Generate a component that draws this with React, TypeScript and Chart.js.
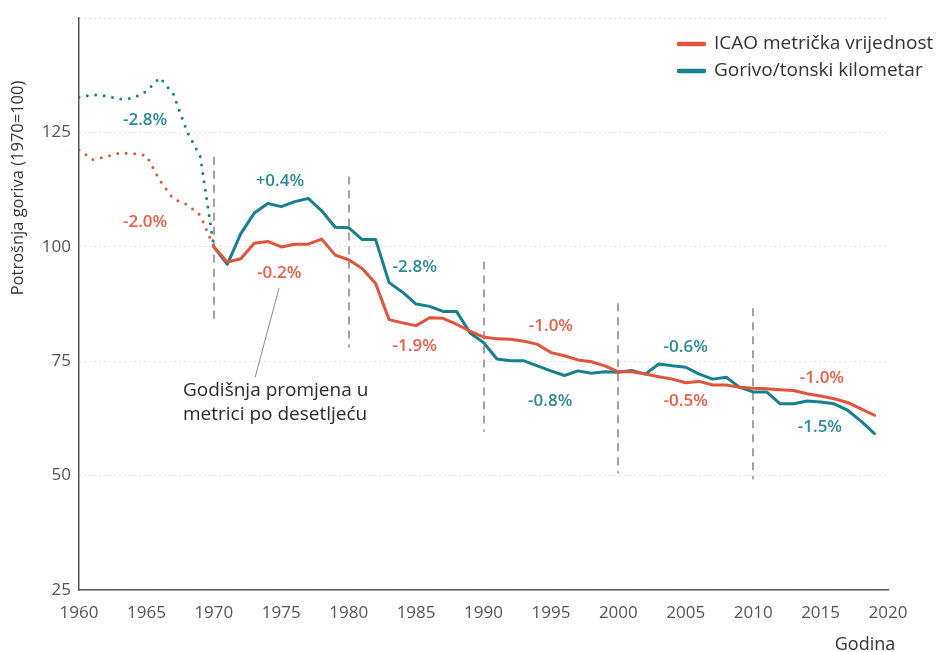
import React, { useEffect, useRef } from 'react';
import { Chart, registerables } from 'chart.js';

Chart.register(...registerables);

// ---------- data ----------
const years = [
  1960, 1961, 1962, 1963, 1964, 1965, 1966, 1967, 1968, 1969,
  1970, 1971, 1972, 1973, 1974, 1975, 1976, 1977, 1978, 1979,
  1980, 1981, 1982, 1983, 1984, 1985, 1986, 1987, 1988, 1989,
  1990, 1991, 1992, 1993, 1994, 1995, 1996, 1997, 1998, 1999,
  2000, 2001, 2002, 2003, 2004, 2005, 2006, 2007, 2008, 2009,
  2010, 2011, 2012, 2013, 2014, 2015, 2016, 2017, 2018, 2019,
];

const icaoMetric = [
  121.2, 119.1, 119.7, 120.5, 120.4, 120.0, 114.5, 110.5, 109.3, 106.9,
  100.0, 96.7, 97.4, 100.8, 101.2, 100.0, 100.6, 100.6, 101.7, 98.2,
  97.2, 95.3, 92.0, 84.1, 83.4, 82.8, 84.5, 84.4, 83.1, 81.6,
  80.3, 79.9, 79.8, 79.4, 78.7, 76.9, 76.2, 75.3, 74.9, 74.0,
  72.7, 72.7, 72.2, 71.6, 71.1, 70.3, 70.6, 69.8, 69.8, 69.3,
  69.1, 69.0, 68.8, 68.6, 67.9, 67.4, 66.8, 66.0, 64.6, 63.2,
];

const fuelPerTonneKm = [
  132.7, 133.3, 133.0, 132.3, 132.5, 134.0, 137.0, 133.4, 125.3, 119.7,
  100.0, 96.2, 102.9, 107.4, 109.5, 108.8, 109.9, 110.6, 107.9, 104.3,
  104.2, 101.6, 101.6, 92.2, 90.1, 87.5, 87.0, 85.9, 85.9, 81.2,
  79.1, 75.5, 75.1, 75.1, 74.0, 72.9, 71.9, 72.9, 72.4, 72.7,
  72.6, 73.0, 72.2, 74.4, 74.0, 73.7, 72.2, 71.1, 71.5, 69.3,
  68.3, 68.3, 65.7, 65.7, 66.3, 66.1, 65.7, 64.3, 61.9, 59.2,
];

const seriesNames = ['ICAO metrička vrijednost', 'Gorivo/tonski kilometar'];
const dottedUntilYear = 1970;

const xTickValues = [1960, 1965, 1970, 1975, 1980, 1985, 1990, 1995, 2000, 2005, 2010, 2015, 2020];
const yTickValues = [25, 50, 75, 100, 125];

// decade separators (year, from value, to value)
const decadeYears = [1970, 1980, 1990, 2000, 2010];
const decadeTop = [119.7, 115.4, 96.8, 87.7, 86.6];
const decadeBottom = [83.0, 78.0, 59.6, 50.5, 49.2];

// annual change per decade labels
const changeTexts = ['-2.8%', '-2.0%', '+0.4%', '-0.2%', '-2.8%', '-1.9%', '-1.0%', '-0.8%', '-0.6%', '-0.5%', '-1.0%', '-1.5%'];
const changeYears = [1964.9, 1964.9, 1974.9, 1974.85, 1984.9, 1984.9, 1995.0, 1994.95, 2005.0, 2005.0, 2015.1, 2014.95];
const changeValues = [127.7, 105.4, 114.3, 94.2, 95.5, 78.4, 82.7, 66.3, 78.0, 66.3, 71.3, 60.7];
const changeSeries = [1, 0, 1, 0, 1, 0, 0, 1, 1, 0, 0, 1];

const calloutLines = ['Godišnja promjena u', 'metrici po desetljeću'];

// ---------- styles ----------
const RED = '#E1533A';
const TEAL = '#17808F';
const RED_TXT = '#E5604A';
const TEAL_TXT = '#2A8B9A';
const FONT = '"Open Sans", "DejaVu Sans", sans-serif';

const overlayPlugin = {
  id: 'overlay',
  beforeDatasetsDraw(chart: any) {
    const { ctx } = chart;
    const xs = chart.scales.x;
    const ys = chart.scales.y;
    ctx.save();
    ctx.strokeStyle = '#a3a3a3';
    ctx.lineWidth = 2;
    ctx.setLineDash([8, 6]);
    decadeYears.forEach((yr, i) => {
      const x = Math.round(xs.getPixelForValue(yr));
      ctx.beginPath();
      ctx.moveTo(x, ys.getPixelForValue(decadeTop[i]));
      ctx.lineTo(x, ys.getPixelForValue(decadeBottom[i]));
      ctx.stroke();
    });
    ctx.restore();
  },
  afterDraw(chart: any) {
    const { ctx } = chart;
    const xs = chart.scales.x;
    const ys = chart.scales.y;
    ctx.save();

    // change labels
    ctx.font = `600 17px ${FONT}`;
    ctx.textAlign = 'center';
    ctx.textBaseline = 'middle';
    changeTexts.forEach((t, i) => {
      ctx.fillStyle = changeSeries[i] === 0 ? RED_TXT : TEAL_TXT;
      ctx.fillText(t, xs.getPixelForValue(changeYears[i]), ys.getPixelForValue(changeValues[i]));
    });

    // callout
    ctx.strokeStyle = '#8a8a8a';
    ctx.lineWidth = 1;
    ctx.beginPath();
    ctx.moveTo(xs.getPixelForValue(1974.84), ys.getPixelForValue(91.0));
    ctx.lineTo(xs.getPixelForValue(1973.06), ys.getPixelForValue(71.5));
    ctx.stroke();
    ctx.fillStyle = '#2b2b2b';
    ctx.font = `19px ${FONT}`;
    ctx.textAlign = 'left';
    ctx.fillText(calloutLines[0], 183, 391);
    ctx.fillText(calloutLines[1], 183, 415);

    // legend
    const legendColors = [RED, TEAL];
    const legendY = [44, 71];
    ctx.font = `19px ${FONT}`;
    seriesNames.forEach((name, i) => {
      ctx.strokeStyle = legendColors[i];
      ctx.lineWidth = 4.5;
      ctx.lineCap = 'round';
      ctx.beginPath();
      ctx.moveTo(679, legendY[i]);
      ctx.lineTo(704, legendY[i]);
      ctx.stroke();
      ctx.fillStyle = '#333';
      ctx.fillText(name, 714, legendY[i]);
    });

    // axis titles
    ctx.fillStyle = '#333';
    ctx.font = `18px ${FONT}`;
    ctx.textAlign = 'center';
    ctx.fillText('Godina', 865, 645);
    ctx.translate(18, 188);
    ctx.rotate(-Math.PI / 2);
    ctx.font = `16.5px ${FONT}`;
    ctx.fillText('Potrošnja goriva (1970=100)', 0, 0);
    ctx.restore();
  },
};

export default function App() {
  const ref = useRef<HTMLCanvasElement | null>(null);

  useEffect(() => {
    if (!ref.current) return;
    const mk = (vals: number[]) => years.map((y, i) => ({ x: y, y: vals[i] }));
    const dotted = (c: any) => (c.p1.parsed.x <= dottedUntilYear ? [0, 8.5] : undefined);
    const chart = new Chart(ref.current, {
      type: 'line',
      data: {
        datasets: [
          {
            label: seriesNames[0],
            data: mk(icaoMetric),
            borderColor: RED,
            borderWidth: 3,
            pointRadius: 0,
            borderCapStyle: 'round',
            borderJoinStyle: 'round',
            segment: { borderDash: dotted },
          } as any,
          {
            label: seriesNames[1],
            data: mk(fuelPerTonneKm),
            borderColor: TEAL,
            borderWidth: 3,
            pointRadius: 0,
            borderCapStyle: 'round',
            borderJoinStyle: 'round',
            segment: { borderDash: dotted },
          } as any,
        ],
      },
      options: {
        animation: false,
        responsive: false,
        layout: { padding: { left: 0, top: 12, right: 48, bottom: 0 } },
        plugins: { legend: { display: false }, tooltip: { enabled: false } },
        scales: {
          x: {
            type: 'linear',
            min: 1960,
            max: 2020,
            afterFit: (s: any) => { s.height = 62; },
            afterBuildTicks: (s: any) => { s.ticks = xTickValues.map((v) => ({ value: v })); },
            ticks: {
              callback: (v: any) => String(v),
              color: '#555',
              font: { family: FONT, size: 17 },
              padding: 13,
              maxRotation: 0,
              autoSkip: false,
            },
            grid: { display: false, drawTicks: false },
            border: { display: true, color: '#555', width: 1.5 },
          },
          y: {
            min: 25,
            max: 150,
            afterFit: (s: any) => { s.width = 79; },
            afterBuildTicks: (s: any) => { s.ticks = [...yTickValues, 150].map((v) => ({ value: v })); },
            ticks: {
              callback: (v: any) => (yTickValues.includes(v) ? String(v) : ''),
              color: '#555',
              font: { family: FONT, size: 17 },
              padding: 8,
            },
            grid: { color: '#c4c4c4', lineWidth: 1, drawTicks: false },
            border: { display: true, color: '#555', width: 1.5, dash: [1, 4] },
          },
        },
      } as any,
      plugins: [overlayPlugin],
    });
    return () => chart.destroy();
  }, []);

  return (
    <canvas
      ref={ref}
      width={936}
      height={652}
      style={{ position: 'absolute', left: 0, top: 0, width: 936, height: 652 }}
    />
  );
}
